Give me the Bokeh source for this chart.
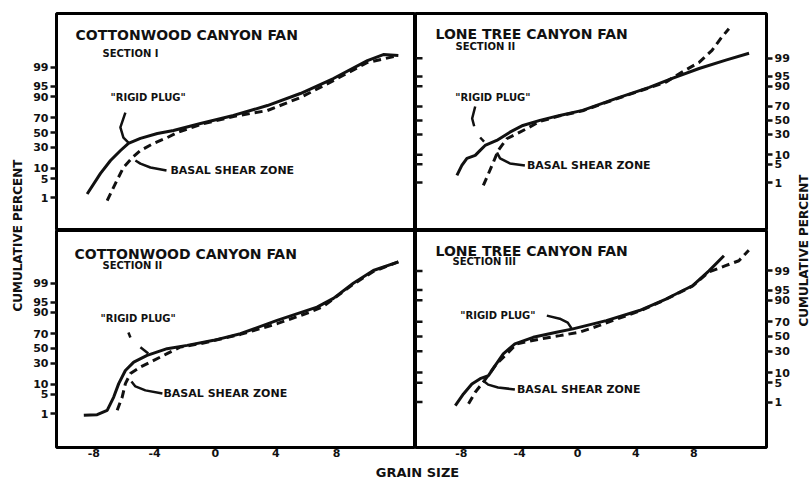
import math
from bokeh.plotting import figure
from bokeh.layouts import gridplot, row, column
from bokeh.models import FixedTicker, Label, Range1d
from bokeh.embed import file_html
from bokeh.resources import INLINE

# ---------------- data (grain size in phi, cumulative percent) ----------------
y_tick_pct = [1, 5, 10, 30, 50, 70, 90, 95, 99]
x_tick_vals = [-8, -4, 0, 4, 8]
x_tick_labels = ["-8", "-4", "0", "4", "8"]

# Cottonwood Canyon Fan, Section I
cw1_rigid_x = [-8.44, -7.56, -6.90, -6.24, -5.72, -4.93, -3.81, -2.75, -0.97, 1.2, 3.44, 5.61, 7.79, 10.03, 11.08, 12.07]
cw1_rigid_pct = [1.4, 7.2, 15.9, 26, 35, 41.7, 48.6, 52.8, 62.6, 72.9, 83.2, 91.8, 97.3, 99.49, 99.73, 99.70]
cw1_basal_x = [-7.12, -6.58, -6.05, -5.45, -4.93, -4.07, -3.15, -2.49, -0.97, 1.2, 3.44, 5.61, 7.79, 10.03, 12.07]
cw1_basal_pct = [0.75, 3.4, 10.6, 18.7, 26, 34.8, 42.9, 50, 61.3, 71.6, 78.4, 89.4, 96.8, 99.38, 99.70]

# Lone Tree Canyon Fan, Section II
lt2_rigid_x = [-8.31, -7.97, -7.62, -7.05, -6.71, -6.37, -5.57, -4.66, -3.77, -2.6, -1.23, 0.34, 2.67, 4.93, 6.51, 8.36, 10.2, 11.8]
lt2_rigid_pct = [1.97, 4.6, 7.8, 9.5, 13.1, 17.4, 22.7, 33, 42.5, 50, 57.4, 64.6, 79.5, 89.2, 94.2, 97.4, 98.8, 99.4]
lt2_basal_x = [-6.49, -6.14, -5.80, -5.46, -4.88, -4.2, -3.51, -2.6, -1.23, 0.34, 2.67, 4.93, 6.07, 7.19, 8.36, 9.25, 9.93, 10.41]
lt2_basal_pct = [0.75, 2.3, 5.9, 13.1, 24.6, 30.9, 37.8, 48.5, 56.7, 64, 79, 88.9, 92.4, 96.5, 98.5, 99.56, 99.91, 99.97]

# Cottonwood Canyon Fan, Section II
cw2_rigid_x = [-8.66, -7.78, -7.12, -6.69, -6.36, -5.92, -5.37, -4.49, -3.17, -1.85, -0.1, 1.66, 4.08, 6.71, 7.79, 9.1, 10.42, 12.07]
cw2_rigid_pct = [0.84, 0.89, 1.35, 4.1, 10.4, 21.5, 31.2, 40.1, 49.6, 54.3, 61.3, 70, 84.1, 93, 96.3, 99, 99.73, 99.9]
cw2_basal_x = [-6.46, -6.13, -5.92, -5.59, -4.93, -4.05, -3.17, -2.29, -0.97, 1.66, 4.08, 6.27, 7.13, 9.1, 10.42, 12.07]
cw2_basal_pct = [1.35, 4.1, 10.4, 18.4, 25.2, 33.4, 42.5, 52, 56.7, 69.1, 81.1, 90.3, 93.3, 98.9, 99.7, 99.9]

# Lone Tree Canyon Fan, Section III
lt3_rigid_x = [-8.42, -7.86, -7.28, -6.71, -6.14, -5.68, -5.12, -4.32, -3.06, -1.46, -0.32, 1.97, 4.25, 6.08, 7.9, 9.04, 10.07]
lt3_rigid_pct = [0.71, 2.07, 4.6, 6.7, 8.2, 15.1, 26.8, 39.7, 48.8, 56, 60.6, 71.3, 82.1, 90.8, 96.4, 99.0, 99.79]
lt3_basal_x = [-7.51, -7.05, -6.49, -5.57, -4.88, -4.2, -2.6, -1.23, 0.14, 1.51, 2.4, 4.25, 6.08, 7.9, 9.04, 10.18, 11.1, 11.78]
lt3_basal_pct = [0.84, 2.4, 5.3, 16.6, 26.8, 39.7, 46.4, 51.2, 56, 65.2, 71.3, 81.6, 90.6, 96.3, 98.9, 99.4, 99.64, 99.89]

panel_titles = ["COTTONWOOD CANYON FAN", "LONE TREE CANYON FAN", "COTTONWOOD CANYON FAN", "LONE TREE CANYON FAN"]
panel_sections = ["SECTION I", "SECTION II", "SECTION II", "SECTION III"]
rigid_text = '"RIGID PLUG"'
basal_text = "BASAL SHEAR ZONE"
y_axis_title = "CUMULATIVE PERCENT"
x_axis_title = "GRAIN SIZE"


def probit(pct):
    """Normal-probability (probit) transform of a cumulative percent."""
    q = pct / 100.0
    lo, hi = -9.0, 9.0
    for _ in range(90):
        mid = (lo + hi) / 2
        if 0.5 * (1 + math.erf(mid / math.sqrt(2))) < q:
            lo = mid
        else:
            hi = mid
    return (lo + hi) / 2


y_ticks = [probit(v) for v in y_tick_pct]
y_overrides = {t: str(v) for t, v in zip(y_ticks, y_tick_pct)}

FONT = "DejaVu Sans"
INK = "#111111"
FH = 217
FW_L, FW_R = 359, 353
BL_, BR_ = 28, 24
TB, BB = 13, 18
LBL_W, RBL_W, BOT_H = 28, 18, 14

panels = [
    dict(title=0, x=cw1_rigid_x, y=cw1_rigid_pct, bx=cw1_basal_x, by=cw1_basal_pct,
         xr=(-10.46, 13.2), yr=(-3.5, 4.25), side="left", top=True,
         tpos=(19, 21), spos=(46, 40),
         rig=(-6.9, 1.25), rig_lead=[([-5.92, -6.25, -6.05, -5.72], [0.71, 0.18, -0.18, -0.36])],
         bas=(-2.95, -1.36), bas_lead=([-3.21, -4.27, -4.93, -5.26], [-1.36, -1.25, -1.11, -1.0])),
    dict(title=1, x=lt2_rigid_x, y=lt2_rigid_pct, bx=lt2_basal_x, by=lt2_basal_pct,
         xr=(-11.16, 13.0), yr=(-4.12, 4.0), side="right", top=True,
         tpos=(20, 20), spos=(40, 33),
         rig=(-8.42, 0.86), rig_lead=[([-7.05, -7.26, -7.12], [0.52, 0.07, -0.22]), ([-6.71, -6.44], [-0.64, -0.79])],
         bas=(-3.49, -1.69), bas_lead=([-3.63, -4.66, -5.34, -5.55], [-1.69, -1.61, -1.42, -1.2])),
    dict(title=2, x=cw2_rigid_x, y=cw2_rigid_pct, bx=cw2_basal_x, by=cw2_basal_pct,
         xr=(-10.46, 13.2), yr=(-3.54, 4.21), side="left", top=False,
         tpos=(18, 23), spos=(46, 35),
         rig=(-7.56, 1.07), rig_lead=[([-5.72, -5.59], [0.57, 0.39]), ([-4.93, -4.41], [0.04, -0.18])],
         bas=(-3.41, -1.61), bas_lead=([-3.48, -4.6, -5.26, -5.52], [-1.61, -1.5, -1.36, -1.18])),
    dict(title=3, x=lt3_rigid_x, y=lt3_rigid_pct, bx=lt3_basal_x, by=lt3_basal_pct,
         xr=(-11.16, 13.0), yr=(-3.94, 3.76), side="right", top=False,
         tpos=(20, 20), spos=(37, 31),
         rig=(-8.08, 0.74), rig_lead=[([-2.12, -1.23, -0.68, -0.41], [0.74, 0.63, 0.49, 0.28])],
         bas=(-4.18, -1.88), bas_lead=([-4.32, -5.48, -6.16, -6.51], [-1.88, -1.81, -1.71, -1.56])),
]


def blank_fig(w, h):
    f = figure(width=w, height=h, output_backend="svg", toolbar_location=None,
               x_range=Range1d(0, 1), y_range=Range1d(0, 1),
               x_axis_location=None, y_axis_location=None, min_border=0)
    f.outline_line_color = None
    for g in f.grid:
        g.visible = False
    return f


figs = []
for pd_ in panels:
    left = pd_["side"] == "left"
    fw = FW_L if left else FW_R
    w = fw + (BL_ if left else BR_)
    h = FH + (TB if pd_["top"] else BB)
    p = figure(width=w, height=h, output_backend="svg", toolbar_location=None,
               x_range=Range1d(*pd_["xr"]), y_range=Range1d(*pd_["yr"]),
               x_axis_location=None if pd_["top"] else "below",
               y_axis_location=pd_["side"], min_border=0)
    p.min_border_left = BL_ if left else 0
    p.min_border_right = 0 if left else BR_
    p.min_border_top = TB if pd_["top"] else 0
    p.min_border_bottom = 0 if pd_["top"] else BB
    p.outline_line_color = "black"
    p.outline_line_width = 3
    p.xgrid.visible = False
    p.ygrid.visible = False

    yax = p.yaxis[0]
    yax.ticker = FixedTicker(ticks=y_ticks)
    yax.major_label_overrides = y_overrides
    yax.axis_line_color = None
    yax.major_tick_out = 6
    yax.major_tick_in = 0
    yax.major_tick_line_width = 2.5
    yax.major_tick_line_color = INK
    yax.minor_tick_line_color = None
    yax.major_label_text_font = FONT
    yax.major_label_text_font_style = "bold"
    yax.major_label_text_font_size = "11px"
    yax.major_label_text_color = INK
    yax.major_label_standoff = 2

    if not left:
        # inward tick marks on the shared (left) edge of the right-hand panels
        p.ray(x=[pd_["xr"][0]] * len(y_ticks), y=y_ticks, length=7, length_units="screen",
              angle=0, line_color=INK, line_width=2.5)

    if not pd_["top"]:
        xax = p.xaxis[0]
        xax.ticker = FixedTicker(ticks=x_tick_vals)
        xax.major_label_overrides = dict(zip(x_tick_vals, x_tick_labels))
        xax.axis_line_color = None
        xax.major_tick_out = 0
        xax.major_tick_in = 0
        xax.minor_tick_line_color = None
        xax.major_label_text_font = FONT
        xax.major_label_text_font_style = "bold"
        xax.major_label_text_font_size = "11px"
        xax.major_label_text_color = INK
        xax.major_label_standoff = 1

    # curves
    p.line(pd_["x"], [probit(v) for v in pd_["y"]], line_color=INK, line_width=3)
    p.line(pd_["bx"], [probit(v) for v in pd_["by"]], line_color=INK, line_width=3,
           line_dash="8 5")

    # panel titles (screen units from frame left / frame bottom)
    tx, ty = pd_["tpos"]
    sx, sy = pd_["spos"]
    p.add_layout(Label(x=tx, y=FH - ty, x_units="screen", y_units="screen",
                       text=panel_titles[pd_["title"]], text_font=FONT, text_font_style="bold",
                       text_font_size="14px", text_color=INK, text_baseline="middle"))
    p.add_layout(Label(x=sx, y=FH - sy, x_units="screen", y_units="screen",
                       text=panel_sections[pd_["title"]], text_font=FONT, text_font_style="bold",
                       text_font_size="10px", text_color=INK, text_baseline="middle"))

    # annotations
    rx, ry = pd_["rig"]
    p.add_layout(Label(x=rx, y=ry, text=rigid_text, text_font=FONT, text_font_style="bold",
                       text_font_size="10px", text_color=INK, text_baseline="middle"))
    for lx, ly in pd_["rig_lead"]:
        p.line(lx, ly, line_color=INK, line_width=2.5)
    bx, by = pd_["bas"]
    p.add_layout(Label(x=bx, y=by, text=basal_text, text_font=FONT, text_font_style="bold",
                       text_font_size="11px", text_color=INK, text_baseline="middle"))
    lx, ly = pd_["bas_lead"]
    p.line(lx, ly, line_color=INK, line_width=2.5)

    figs.append(p)

tl, tr, bl, br = figs
grid = gridplot([[tl, tr], [bl, br]], toolbar_location=None)

GH = 2 * FH + TB + BB
left_lab = blank_fig(LBL_W, GH)
left_lab.add_layout(Label(x=17, y=GH - 235, x_units="screen", y_units="screen",
                          text=y_axis_title, angle=math.pi / 2, text_font=FONT,
                          text_font_style="bold", text_font_size="12px", text_color=INK,
                          text_align="center", text_baseline="middle"))
right_lab = blank_fig(RBL_W, GH)
right_lab.add_layout(Label(x=11, y=GH - 250, x_units="screen", y_units="screen",
                           text=y_axis_title, angle=math.pi / 2, text_font=FONT,
                           text_font_style="bold", text_font_size="12px", text_color=INK,
                           text_align="center", text_baseline="middle"))
TOT_W = LBL_W + FW_L + BL_ + FW_R + BR_ + RBL_W
bottom_lab = blank_fig(TOT_W, BOT_H)
bottom_lab.add_layout(Label(x=417, y=BOT_H / 2, x_units="screen", y_units="screen",
                            text=x_axis_title, text_font=FONT, text_font_style="bold",
                            text_font_size="13px", text_color=INK, text_align="center",
                            text_baseline="middle"))

layout = column(row(left_lab, grid, right_lab, spacing=0), bottom_lab, spacing=0)

open("out.html", "w").write(file_html(layout, INLINE))
